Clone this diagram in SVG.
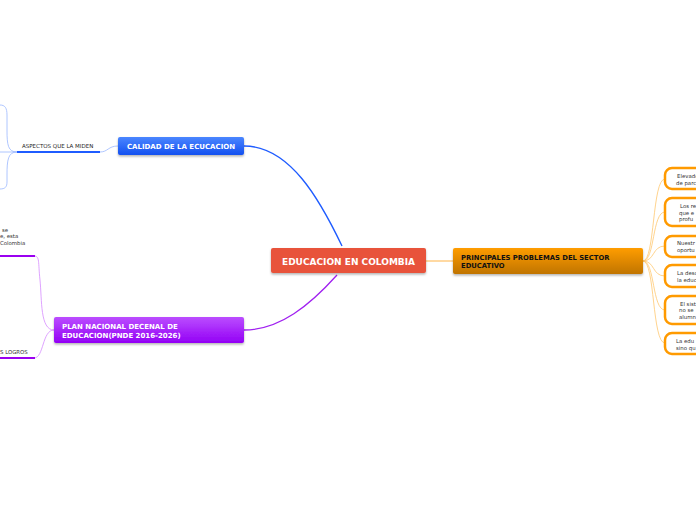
<svg xmlns="http://www.w3.org/2000/svg" width="696" height="520" viewBox="0 0 696 520">
<defs>
<linearGradient id="gBlue" x1="0" y1="0" x2="0" y2="1"><stop offset="0" stop-color="#4a86ff"/><stop offset="1" stop-color="#1450f0"/></linearGradient>
<linearGradient id="gPurple" x1="0" y1="0" x2="0" y2="1"><stop offset="0" stop-color="#bb4dff"/><stop offset="1" stop-color="#9300f5"/></linearGradient>
<linearGradient id="gOrange" x1="0" y1="0" x2="0" y2="1"><stop offset="0" stop-color="#ff9d00"/><stop offset="1" stop-color="#c07400"/></linearGradient>
<filter id="sh" x="-10%" y="-20%" width="120%" height="150%"><feDropShadow dx="0" dy="1.5" stdDeviation="1" flood-color="#000" flood-opacity="0.3"/></filter>
</defs>
<style>
text{font-family:"DejaVu Sans","Verdana",sans-serif}
.main{font-size:9px;font-weight:bold;fill:#fff}
.top{font-size:7px;font-weight:bold;fill:#fff}
.topd{font-size:6.8px;font-weight:bold;fill:#111}
.sub{font-size:5.5px;fill:#222}
.leaf{font-size:5.4px;fill:#333}
.ob{fill:#fff;stroke:#ff9a00;stroke-width:2.5}
.ol{fill:none;stroke:#ffc870;stroke-width:0.8}
</style>
<g id="connectors" fill="none">
<path d="M342,246 C320,200 290,146 244,146" stroke="#1f5cff" stroke-width="1.4"/>
<path d="M337,275 C310,305 280,330 244,330" stroke="#a020f0" stroke-width="1.3"/>
<path d="M426,261 L453,261" stroke="#ffb347" stroke-width="1"/>
<path d="M643,261 C655,261 652,179 665,179" class="ol"/>
<path d="M643,261 C655,261 652,212 665,212" class="ol"/>
<path d="M643,261 C655,261 652,246 665,246" class="ol"/>
<path d="M643,261 C655,261 652,276 665,276" class="ol"/>
<path d="M643,261 C655,261 652,310 665,310" class="ol"/>
<path d="M643,261 C655,261 652,343 665,343" class="ol"/>
<path d="M118,146 C108,146 108,152 100,152" stroke="#9bb8ff" stroke-width="0.8"/>
<path d="M17,152 L100,152" stroke="#1f5cff" stroke-width="2.2"/>
<path d="M17,152 C8,152 7,145 7,130 L7,115 C7,108 5,105 0,105" stroke="#9bb8ff" stroke-width="0.8"/>
<path d="M17,152 L0,152" stroke="#9bb8ff" stroke-width="0.8"/>
<path d="M17,152 C8,152 7,160 7,175 L7,182 C7,187 5,189 0,189" stroke="#9bb8ff" stroke-width="0.8"/>
<path d="M54,330 C40,330 42,300 40,280 C38,262 40,256 34,256" stroke="#d58cff" stroke-width="0.8"/>
<path d="M54,330 C42,330 44,358 34,358" stroke="#d58cff" stroke-width="0.8"/>
<path d="M0,256 L35,256" stroke="#9a00f0" stroke-width="2.2"/>
<path d="M0,358 L35,358" stroke="#9a00f0" stroke-width="2.2"/>
</g>
<g id="central">
<rect x="271" y="248" width="155" height="25" rx="2" fill="#e8533b" filter="url(#sh)"/>
<text class="main" x="348.5" y="264.5" text-anchor="middle">EDUCACION EN COLOMBIA</text>
</g>
<g id="calidad">
<rect x="118" y="137" width="126" height="18" rx="2" fill="url(#gBlue)" filter="url(#sh)"/>
<text class="top" x="181" y="148.7" text-anchor="middle">CALIDAD DE LA ECUCACION</text>
</g>
<g id="aspectos">
<text class="sub" x="22" y="147.5">ASPECTOS QUE LA MIDEN</text>
</g>
<g id="plan">
<rect x="54" y="317" width="190" height="26" rx="2" fill="url(#gPurple)" filter="url(#sh)"/>
<text class="top" x="62" y="328.5">PLAN NACIONAL DECENAL DE</text>
<text class="top" x="62" y="337.5">EDUCACION(PNDE 2016-2026)</text>
</g>
<g id="plan-sub1">
<text class="leaf" x="2" y="232">se</text>
<text class="leaf" x="0" y="238">e, esta</text>
<text class="leaf" x="0" y="244.5">Colombia</text>
</g>
<g id="plan-sub2">
<text class="leaf" x="0" y="354">S LOGROS</text>
</g>
<g id="problemas">
<rect x="453" y="248" width="190" height="26" rx="2" fill="url(#gOrange)" filter="url(#sh)"/>
<text class="topd" x="461" y="259.5">PRINCIPALES PROBLEMAS DEL SECTOR</text>
<text class="topd" x="461" y="268">EDUCATIVO</text>
</g>
<g id="p1"><rect class="ob" x="665" y="168" width="50" height="21" rx="7"/>
<text class="leaf" x="677" y="177.5">Elevado</text><text class="leaf" x="676" y="184.5">de parc</text></g>
<g id="p2"><rect class="ob" x="665" y="198" width="50" height="28" rx="7"/>
<text class="leaf" x="680" y="208">Los re</text><text class="leaf" x="679" y="214.5">que e</text><text class="leaf" x="679" y="221">profu</text></g>
<g id="p3"><rect class="ob" x="665" y="236" width="50" height="21" rx="7"/>
<text class="leaf" x="677" y="245">Nuestr</text><text class="leaf" x="677" y="252">oportu</text></g>
<g id="p4"><rect class="ob" x="665" y="265" width="50" height="22" rx="7"/>
<text class="leaf" x="677" y="275">La desc</text><text class="leaf" x="677" y="282">la educ</text></g>
<g id="p5"><rect class="ob" x="665" y="296" width="50" height="28" rx="7"/>
<text class="leaf" x="680" y="305.5">El sist</text><text class="leaf" x="679" y="312">no se</text><text class="leaf" x="679" y="318.5">alumn</text></g>
<g id="p6"><rect class="ob" x="665" y="333" width="50" height="21" rx="7"/>
<text class="leaf" x="676" y="342.5">La edu</text><text class="leaf" x="676" y="349.5">sino qu</text></g>
</svg>
